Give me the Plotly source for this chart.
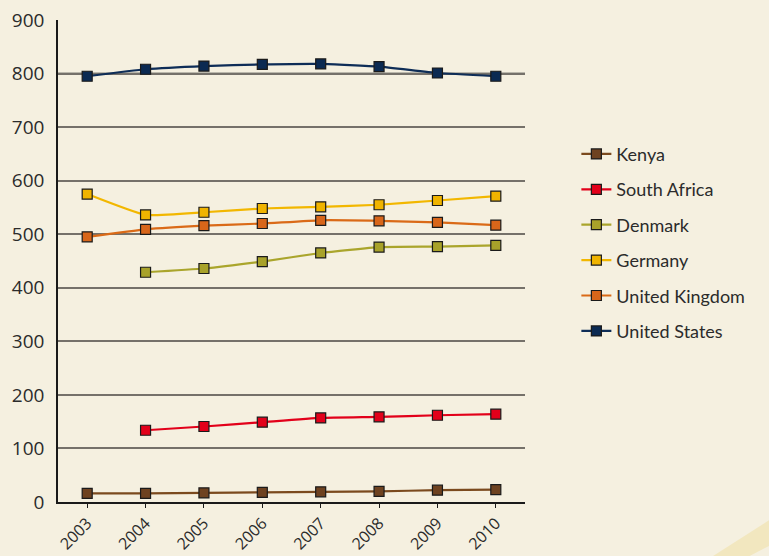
import plotly.graph_objects as go

years = [2003, 2004, 2005, 2006, 2007, 2008, 2009, 2010]

kenya = [16, 16, 17, 18, 19, 20, 22, 23]
south_africa = [None, 134, 141, 149, 157, 159, 162, 164]
denmark = [None, 429, 436, 449, 465, 476, 477, 479]
germany = [575, 536, 541, 548, 551, 555, 563, 571]
united_kingdom = [495, 509, 516, 520, 526, 525, 522, 517]
united_states = [795, 808, 814, 817, 818, 813, 801, 795]

y_ticks = [0, 100, 200, 300, 400, 500, 600, 700, 800, 900]
dark_grid = [200, 400, 600, 800]

series = [
    ("Kenya", kenya, "#7b4a1e", "#6e4220"),
    ("South Africa", south_africa, "#e2001a", "#e2001a"),
    ("Denmark", denmark, "#aaa52c", "#a8a22a"),
    ("Germany", germany, "#f2b700", "#f0b400"),
    ("United Kingdom", united_kingdom, "#da6a17", "#d8661a"),
    ("United States", united_states, "#0e2d57", "#0b2a52"),
]

BG = "#f5f0e0"

fig = go.Figure()

for name, vals, line_col, mk_col in series:
    fig.add_trace(
        go.Scatter(
            x=years,
            y=vals,
            mode="lines+markers",
            name=name,
            legendgroup=name,
            line=dict(color=line_col, width=2.2, shape="spline", smoothing=0.4),
            marker=dict(
                symbol="square",
                size=10,
                color=mk_col,
                line=dict(color="#1a1a1a", width=1.2),
            ),
        )
    )

# darker gridlines every 200, lighter ones from the axis grid in between
shapes = [
    dict(
        type="line",
        xref="paper",
        yref="y",
        x0=0,
        x1=1,
        y0=v,
        y1=v,
        line=dict(color="#111111", width=1.5),
        layer="below",
    )
    for v in dark_grid
]
# faint decorative band in the bottom-right corner
shapes.append(
    dict(
        type="path",
        xref="paper",
        yref="paper",
        path="M 1.398 -0.115 L 1.535 -0.03 L 1.535 -0.085 L 1.475 -0.115 Z",
        fillcolor="#f2e7bf",
        line=dict(width=0),
        layer="below",
    )
)

fig.update_layout(
    width=769,
    height=556,
    paper_bgcolor=BG,
    plot_bgcolor=BG,
    margin=dict(l=58, r=244, t=20, b=54),
    font=dict(family="Open Sans, sans-serif", color="#2b2b2b", size=18),
    showlegend=True,
    legend=dict(
        x=1.11,
        xanchor="left",
        y=0.76,
        yanchor="top",
        bgcolor="rgba(0,0,0,0)",
        font=dict(size=18, family="Lato, sans-serif", color="#2b2b2b"),
        tracegroupgap=9,
        traceorder="grouped",
    ),
    shapes=shapes,
)

fig.update_xaxes(
    range=[2002.5, 2010.5],
    tickvals=years,
    tickangle=-45,
    showgrid=False,
    showline=True,
    linecolor="#1a1a1a",
    linewidth=1.5,
    ticks="outside",
    ticklen=4,
    tickcolor="#1a1a1a",
    zeroline=False,
    automargin=False,
    ticklabelstandoff=0,
    tickfont=dict(size=16),
)
fig.update_yaxes(
    range=[0, 900],
    tickvals=y_ticks,
    showgrid=True,
    gridcolor="#75716a",
    gridwidth=2,
    showline=True,
    linecolor="#1a1a1a",
    linewidth=1.5,
    ticks="",
    ticklabelstandoff=8,
    zeroline=False,
    automargin=False,
    tickfont=dict(size=19),
)

fig.write_html(
    "out.html",
    config={"displayModeBar": False},
    post_script="document.body.style.margin='0';document.body.style.background='#f5f0e0';",
)
